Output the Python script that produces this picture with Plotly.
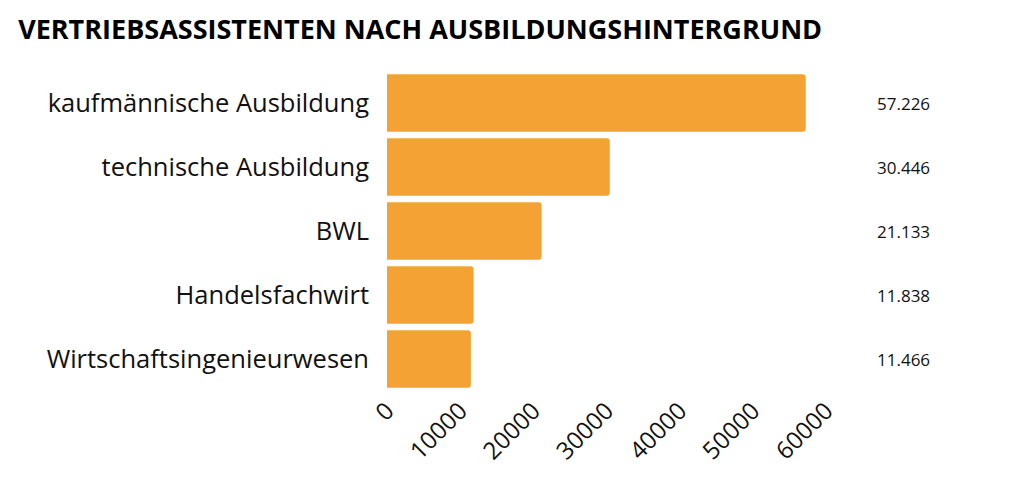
import plotly.graph_objects as go

categories = ["kaufmännische Ausbildung", "technische Ausbildung", "BWL", "Handelsfachwirt", "Wirtschaftsingenieurwesen"]
values = [57226, 30446, 21133, 11838, 11466]
value_labels = ["57.226", "30.446", "21.133", "11.838", "11.466"]
tick_vals = [0, 10000, 20000, 30000, 40000, 50000, 60000]

fig = go.Figure(go.Bar(
    y=categories, x=values, orientation="h",
    marker=dict(color="#F4A233", line=dict(width=0)),
))
for c, lab in zip(categories, value_labels):
    fig.add_annotation(x=1.177, xref="paper", y=c, yref="y", text=lab, showarrow=False,
                       font=dict(size=17, color="#111", family="Open Sans"), xanchor="center")
fig.update_layout(
    width=1014, height=489, plot_bgcolor="white", paper_bgcolor="white",
    margin=dict(l=379, r=196, t=63, b=106),
    bargap=0.1, barcornerradius=3, showlegend=False,
    title=dict(text="<b>VERTRIEBSASSISTENTEN NACH AUSBILDUNGSHINTERGRUND</b>", x=0.01, xanchor="left",
               y=0.955, yanchor="middle", font=dict(size=27, color="#000", family="Open Sans")),
    font=dict(family="Open Sans", color="#111"),
)
fig.update_yaxes(autorange="reversed", tickfont=dict(size=25.5), ticks="", showgrid=False, ticklabelstandoff=17)
fig.update_xaxes(range=[0, 60000], tickvals=tick_vals, ticktext=[str(v) for v in tick_vals],
                 tickangle=-45, tickfont=dict(size=24), showgrid=False, zeroline=False)
fig.write_html("out.html")
